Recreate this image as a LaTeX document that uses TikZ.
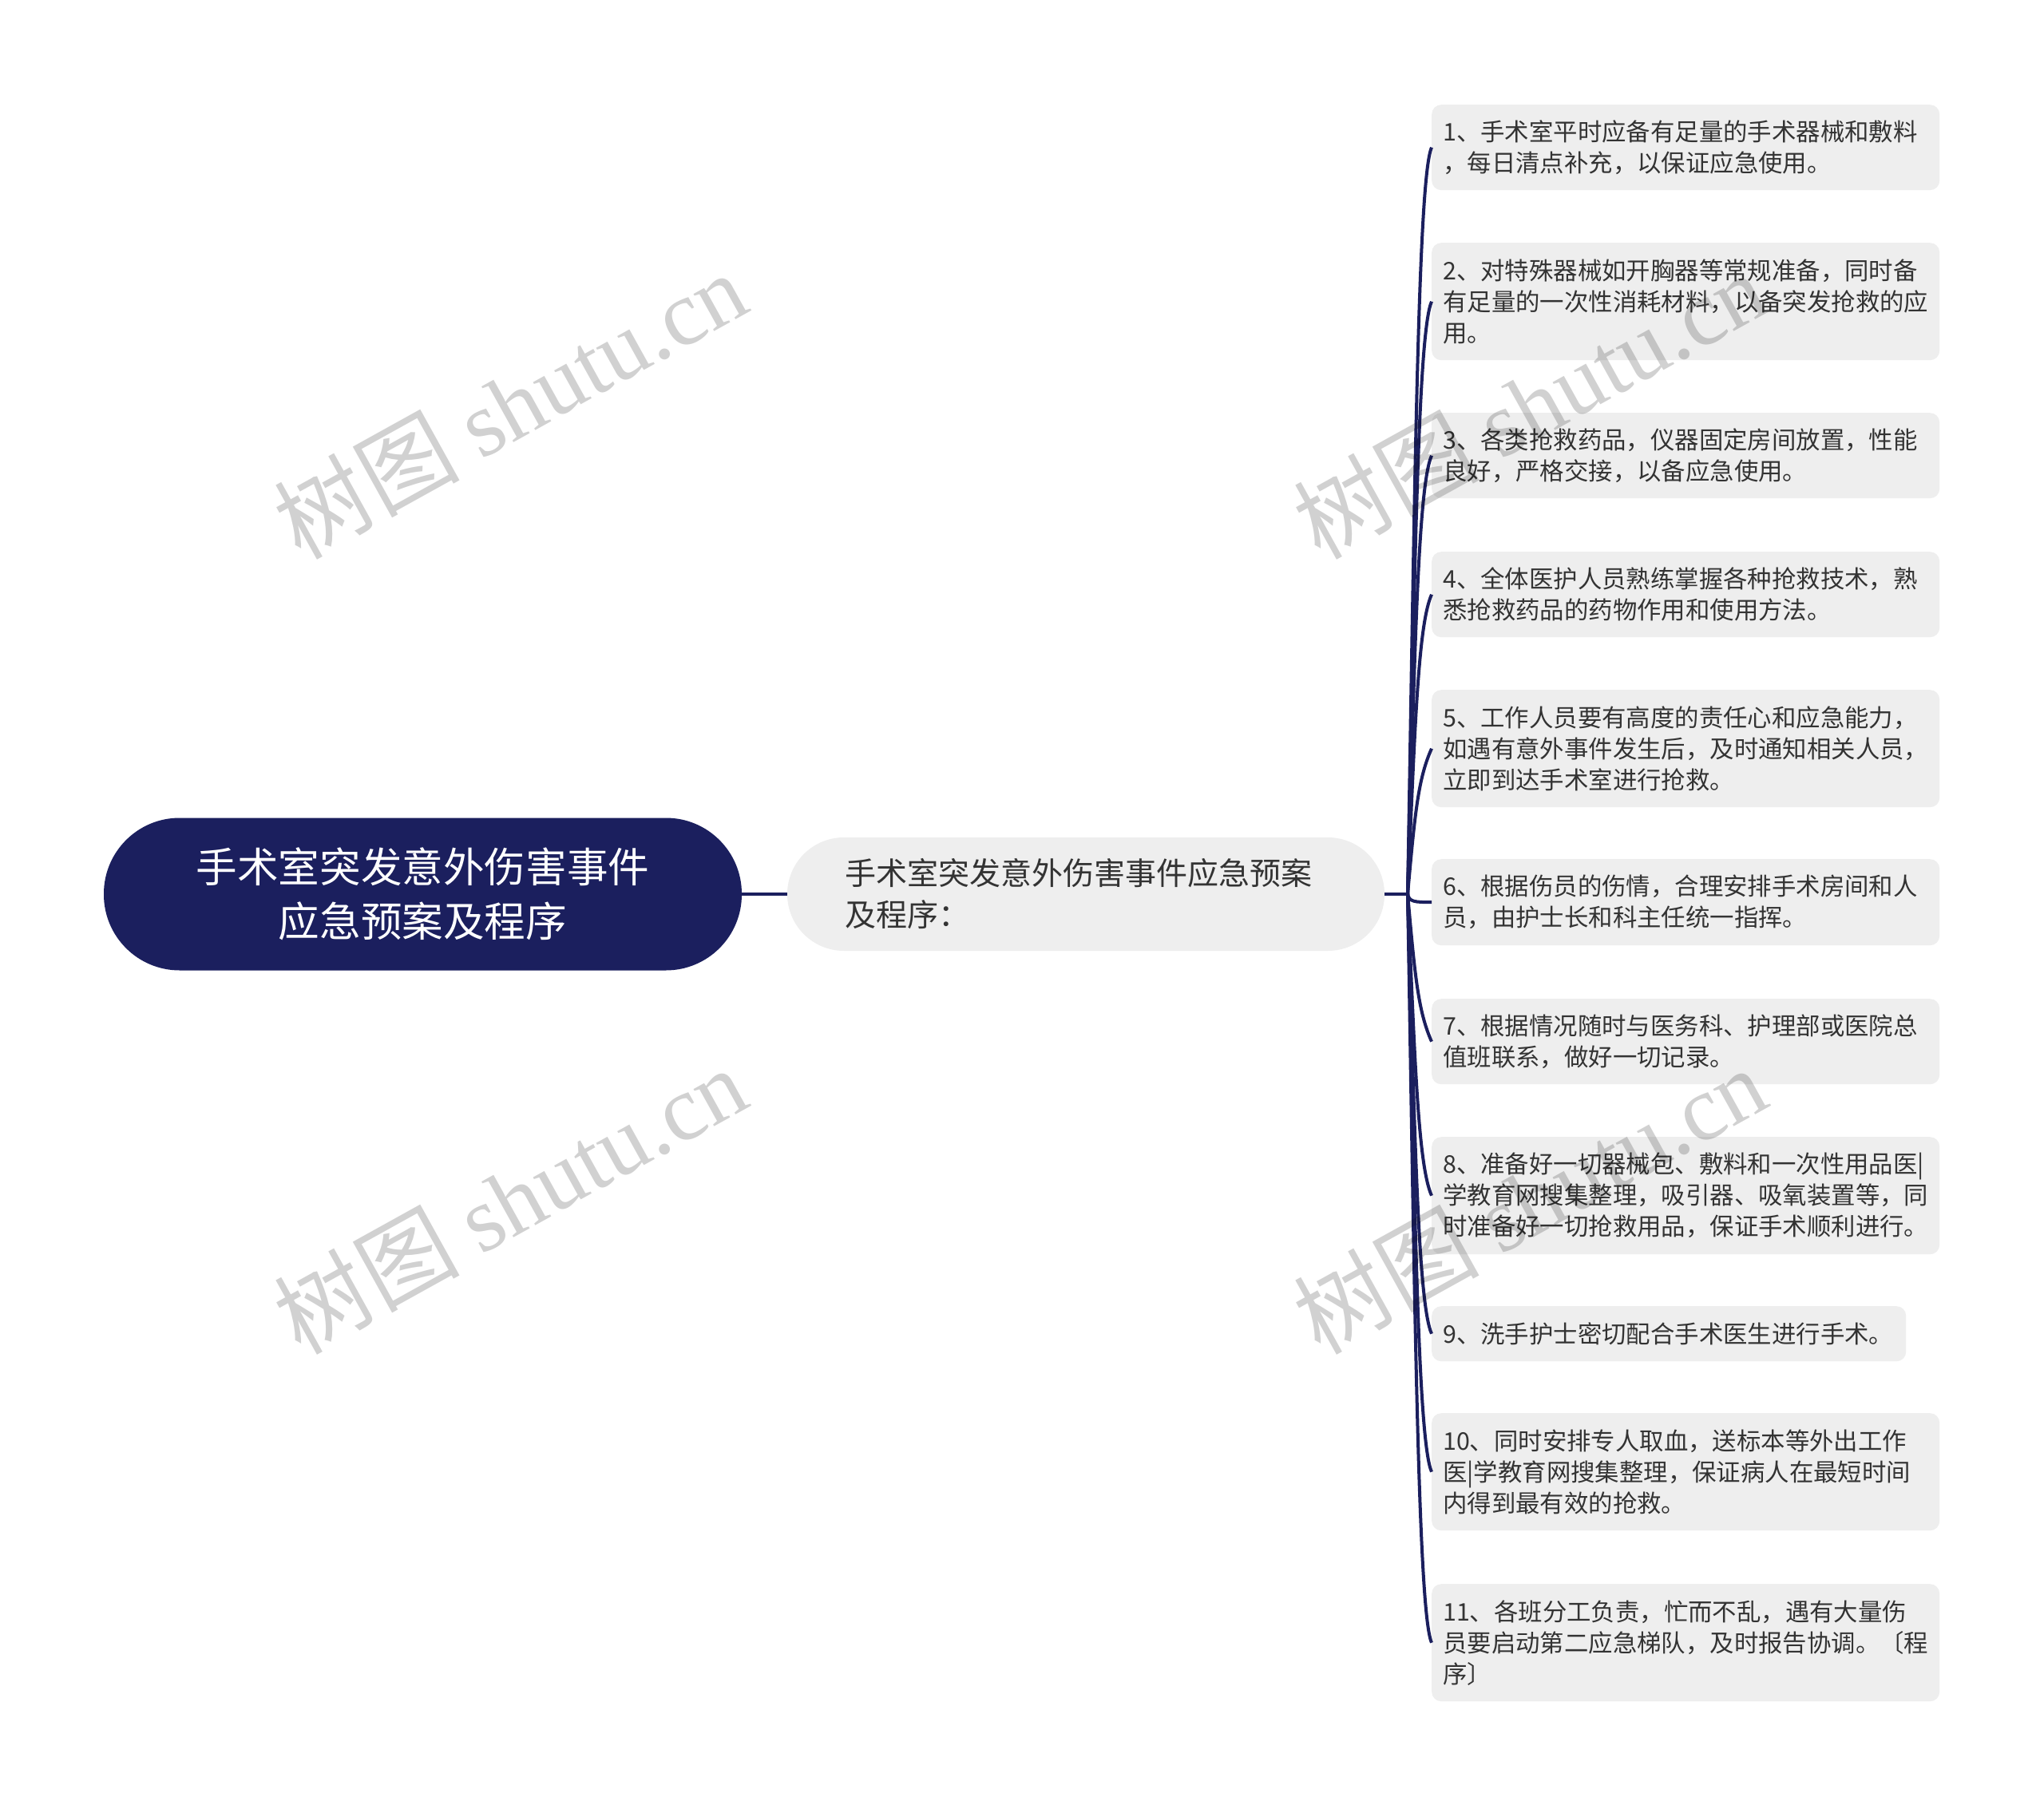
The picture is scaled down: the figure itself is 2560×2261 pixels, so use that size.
\documentclass[tikz,border=0pt]{standalone}
\usepackage{fontspec}
\setmainfont{Noto Sans CJK SC}
\newfontfamily\wmlatin{Liberation Serif}
\definecolor{navy}{RGB}{27,31,94}
\definecolor{boxgray}{RGB}{238,238,238}
\definecolor{txtgray}{RGB}{51,51,51}
\tikzset{
  rootbox/.style={fill=navy, text=white, rounded corners=95pt, minimum width=799pt, minimum height=191pt,
    align=center, inner sep=0pt, font=\fontsize{51.6}{68.6}\selectfont},
  midbox/.style={fill=boxgray, text=txtgray, rounded corners=71pt, minimum height=142pt,
    text width=604pt, inner xsep=72pt, inner ysep=0pt, align=left, font=\fontsize{39}{52}\selectfont},
  leafbox/.style={fill=boxgray, text=txtgray, rounded corners=12pt, anchor=north west,
    text width=608pt, inner xsep=14pt, inner ysep=0pt, align=left, font=\fontsize{30.4}{39}\selectfont},
  conn/.style={draw=navy, line width=4pt},
  wm/.style={text=black, text opacity=0.18, rotate=29, anchor=base, inner sep=0pt,
    font=\fontsize{116}{116}\selectfont}
}
\begin{document}
\begin{tikzpicture}[x=1pt,y=-1pt]
\fill[white] (0,0) rectangle (2560,2261);
\useasboundingbox (0,0) rectangle (2560,2261);

\node[rootbox] (R) at (529.5,1120) {手术室突发意外伤害事件\\应急预案及程序};
\node[midbox] (M) at (1360,1120) {手术室突发意外伤害事件应急预案\\及程序：};
\coordinate (J) at (1763,1120);

\node[leafbox, minimum height=107pt] (L1) at (1793,131) {1、手术室平时应备有足量的手术器械和敷料\\，每日清点补充，以保证应急使用。};
\node[leafbox, minimum height=147pt] (L2) at (1793,304) {2、对特殊器械如开胸器等常规准备，同时备\\有足量的一次性消耗材料，以备突发抢救的应\\用。};
\node[leafbox, minimum height=107pt] (L3) at (1793,517) {3、各类抢救药品，仪器固定房间放置，性能\\良好，严格交接，以备应急使用。};
\node[leafbox, minimum height=107pt] (L4) at (1793,691) {4、全体医护人员熟练掌握各种抢救技术，熟\\悉抢救药品的药物作用和使用方法。};
\node[leafbox, minimum height=147pt] (L5) at (1793,864) {5、工作人员要有高度的责任心和应急能力，\\如遇有意外事件发生后，及时通知相关人员，\\立即到达手术室进行抢救。};
\node[leafbox, minimum height=108pt] (L6) at (1793,1076) {6、根据伤员的伤情，合理安排手术房间和人\\员，由护士长和科主任统一指挥。};
\node[leafbox, minimum height=107pt] (L7) at (1793,1251) {7、根据情况随时与医务科、护理部或医院总\\值班联系，做好一切记录。};
\node[leafbox, minimum height=147pt] (L8) at (1793,1424) {8、准备好一切器械包、敷料和一次性用品医|\\学教育网搜集整理，吸引器、吸氧装置等，同\\时准备好一切抢救用品，保证手术顺利进行。};
\node[leafbox, minimum height=69pt, text width=566pt] (L9) at (1793,1636) {9、洗手护士密切配合手术医生进行手术。};
\node[leafbox, minimum height=147pt] (L10) at (1793,1770) {10、同时安排专人取血，送标本等外出工作\\医|学教育网搜集整理，保证病人在最短时间\\内得到最有效的抢救。};
\node[leafbox, minimum height=147pt] (L11) at (1793,1984) {11、各班分工负责，忙而不乱，遇有大量伤\\员要启动第二应急梯队，及时报告协调。〔程\\序〕};

\draw[conn] (R.east) -- (M.west);
\draw[conn] (M.east) -- (J);
\draw[conn] (J) .. controls (1772,605.5) and (1776,222.5) .. (L1.west);
\draw[conn] (J) .. controls (1772,711.6) and (1776,415.5) .. (L2.west);
\draw[conn] (J) .. controls (1772,817.8) and (1776,608.5) .. (L3.west);
\draw[conn] (J) .. controls (1772,913.5) and (1776,782.5) .. (L4.west);
\draw[conn] (J) .. controls (1772,1019.6) and (1776,975.5) .. (L5.west);
\draw[conn] (J) .. controls (1765,1130) and (1772,1130) .. (L6.west);
\draw[conn] (J) .. controls (1772,1221.5) and (1776,1266.5) .. (L7.west);
\draw[conn] (J) .. controls (1772,1327.6) and (1776,1459.5) .. (L8.west);
\draw[conn] (J) .. controls (1772,1422.8) and (1776,1632.5) .. (L9.west);
\draw[conn] (J) .. controls (1772,1517.9) and (1776,1805.5) .. (L10.west);
\draw[conn] (J) .. controls (1772,1635.6) and (1776,2019.5) .. (L11.west);

\node[wm] (W1) at (660,545) {树图 {\wmlatin shutu.cn}};
\node[wm] (W2) at (1937,545) {树图 {\wmlatin shutu.cn}};
\node[wm] (W3) at (660,1541) {树图 {\wmlatin shutu.cn}};
\node[wm] (W4) at (1937,1541) {树图 {\wmlatin shutu.cn}};
\end{tikzpicture}
\end{document}
